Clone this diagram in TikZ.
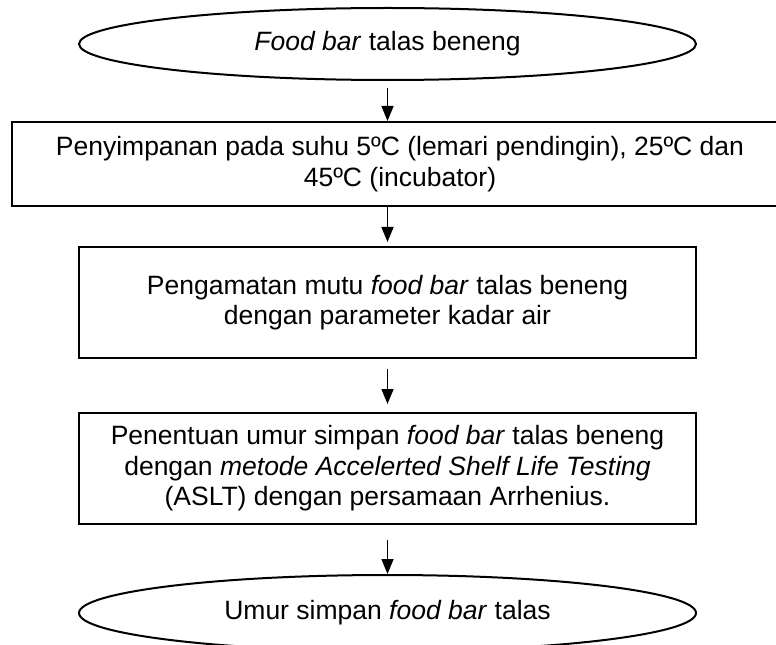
\documentclass[tikz,border=0pt]{standalone}
\usepackage{fontspec}
\setmainfont{Liberation Sans}
\usetikzlibrary{shapes.geometric,arrows.meta}
\begin{document}
\begin{tikzpicture}[x=1bp,y=-1bp,
  every node/.style={font=\fontsize{26.5bp}{30.5bp}\selectfont, inner sep=0pt, align=center},
  term/.style={draw, ellipse, line width=2bp, minimum width=617bp, minimum height=72bp},
  procbox/.style={draw, rectangle, line width=2bp, minimum width=617bp, minimum height=111bp},
  arr/.style={line width=1.5bp, -{Triangle[length=15bp,width=12bp]}}]
\useasboundingbox (0,0) rectangle (776,645);
\node[term] (top) at (387.5,44) {\textit{Food bar} talas beneng};
\node[procbox, minimum width=776bp, minimum height=84bp] (b1) at (400,164)
  {Penyimpanan pada suhu 5ºC (lemari pendingin), 25ºC dan\\45ºC (incubator)};
\node[procbox] (b2) at (387.5,302.5)
  {Pengamatan mutu \textit{food bar} talas beneng\\dengan parameter kadar air};
\node[procbox] (b3) at (387.5,468.5)
  {Penentuan umur simpan \textit{food bar} talas beneng\\dengan \textit{metode Accelerted Shelf Life Testing}\\(ASLT) dengan persamaan Arrhenius.};
\node[term, minimum height=76bp] (bot) at (387.5,613) {Umur simpan \textit{food bar} talas};
\coordinate (a1s) at ([yshift=-7bp]top.south);
\draw[arr] (a1s) -- (a1s |- b1.north);
\coordinate (a2s) at (b1.south -| top.south);
\draw[arr] (a2s) -- ([yshift=4bp]a2s |- b2.north);
\coordinate (a3s) at ([yshift=-10bp]b2.south);
\draw[arr] (a3s) -- ([yshift=8bp]a3s |- b3.north);
\coordinate (a4s) at ([yshift=-15bp]b3.south);
\draw[arr] (a4s) -- (bot.north);
\end{tikzpicture}
\end{document}
